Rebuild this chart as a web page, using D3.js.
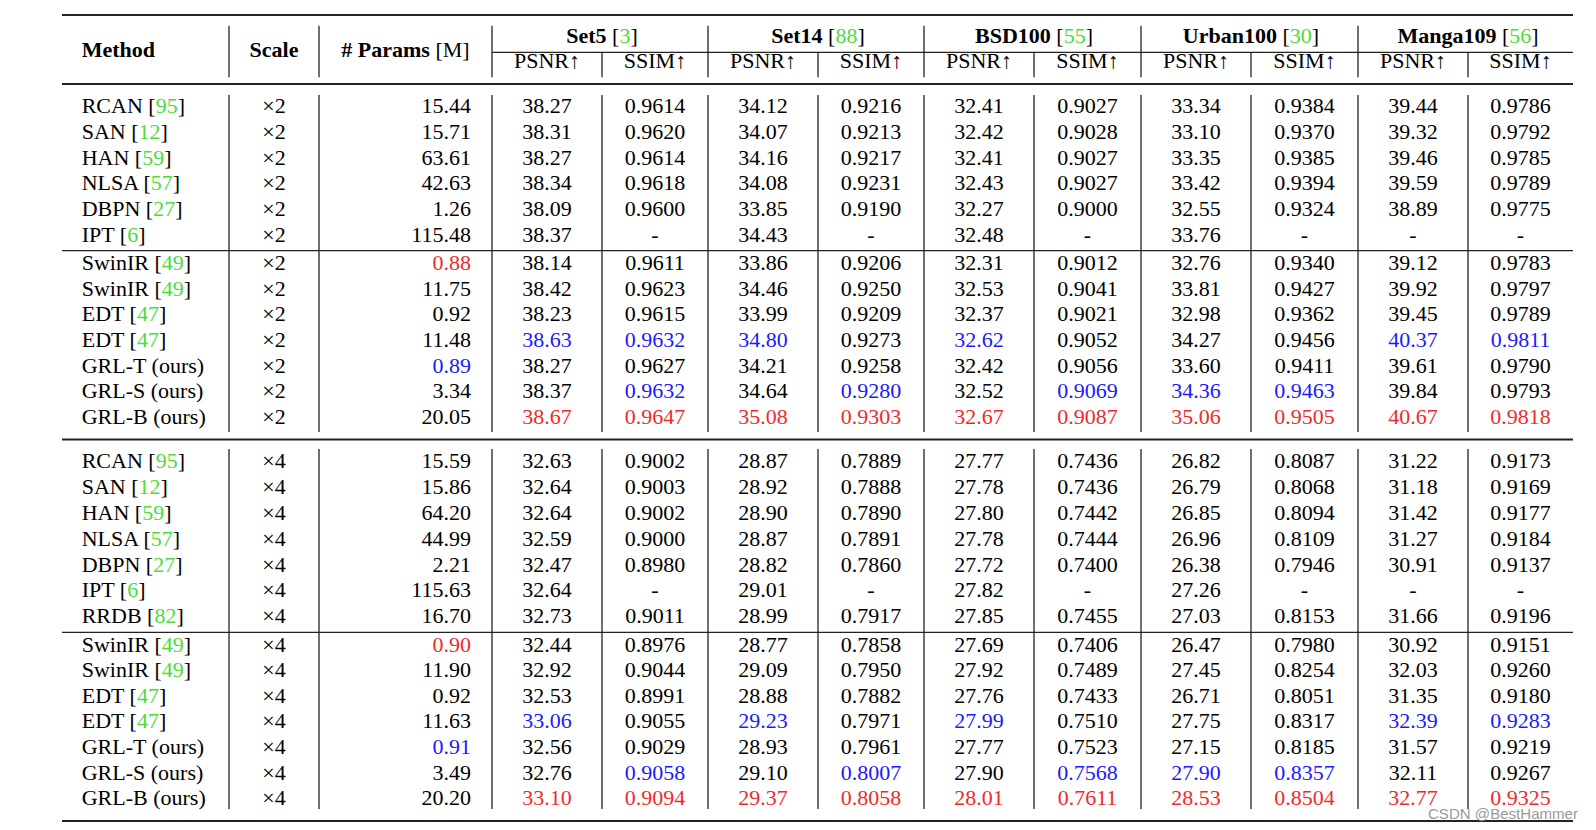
<!DOCTYPE html>
<html>
<head>
<meta charset="utf-8">
<script src="https://cdn.jsdelivr.net/npm/d3@7"></script>
<style>
  body { margin: 0; background: #fff; }
  text { font-family: "Liberation Serif", "Times New Roman", serif; font-size: 22px; fill: #000; }
</style>
</head>
<body>
<div id="table"></div>
<script>
// Header labels
var datasets = ["Set5", "Set14", "BSD100", "Urban100", "Manga109"];
var datasetRefs = [3, 88, 55, 30, 56];
var metrics = ["PSNR\u2191", "SSIM\u2191"];

// x2 block
var methodsX2 = ["RCAN", "SAN", "HAN", "NLSA", "DBPN", "IPT",
                 "SwinIR", "SwinIR", "EDT", "EDT", "GRL-T (ours)", "GRL-S (ours)", "GRL-B (ours)"];
var refsX2 = [95, 12, 59, 57, 27, 6, 49, 49, 47, 47, null, null, null];
var paramsX2 = ["15.44", "15.71", "63.61", "42.63", "1.26", "115.48",
                "0.88", "11.75", "0.92", "11.48", "0.89", "3.34", "20.05"];
var scoresX2 = [
    ["38.27", "0.9614", "34.12", "0.9216", "32.41", "0.9027", "33.34", "0.9384", "39.44", "0.9786"],
    ["38.31", "0.9620", "34.07", "0.9213", "32.42", "0.9028", "33.10", "0.9370", "39.32", "0.9792"],
    ["38.27", "0.9614", "34.16", "0.9217", "32.41", "0.9027", "33.35", "0.9385", "39.46", "0.9785"],
    ["38.34", "0.9618", "34.08", "0.9231", "32.43", "0.9027", "33.42", "0.9394", "39.59", "0.9789"],
    ["38.09", "0.9600", "33.85", "0.9190", "32.27", "0.9000", "32.55", "0.9324", "38.89", "0.9775"],
    ["38.37", "-", "34.43", "-", "32.48", "-", "33.76", "-", "-", "-"],
    ["38.14", "0.9611", "33.86", "0.9206", "32.31", "0.9012", "32.76", "0.9340", "39.12", "0.9783"],
    ["38.42", "0.9623", "34.46", "0.9250", "32.53", "0.9041", "33.81", "0.9427", "39.92", "0.9797"],
    ["38.23", "0.9615", "33.99", "0.9209", "32.37", "0.9021", "32.98", "0.9362", "39.45", "0.9789"],
    ["38.63", "0.9632", "34.80", "0.9273", "32.62", "0.9052", "34.27", "0.9456", "40.37", "0.9811"],
    ["38.27", "0.9627", "34.21", "0.9258", "32.42", "0.9056", "33.60", "0.9411", "39.61", "0.9790"],
    ["38.37", "0.9632", "34.64", "0.9280", "32.52", "0.9069", "34.36", "0.9463", "39.84", "0.9793"],
    ["38.67", "0.9647", "35.08", "0.9303", "32.67", "0.9087", "35.06", "0.9505", "40.67", "0.9818"]
];

// x4 block
var methodsX4 = ["RCAN", "SAN", "HAN", "NLSA", "DBPN", "IPT", "RRDB",
                 "SwinIR", "SwinIR", "EDT", "EDT", "GRL-T (ours)", "GRL-S (ours)", "GRL-B (ours)"];
var refsX4 = [95, 12, 59, 57, 27, 6, 82, 49, 49, 47, 47, null, null, null];
var paramsX4 = ["15.59", "15.86", "64.20", "44.99", "2.21", "115.63", "16.70",
                "0.90", "11.90", "0.92", "11.63", "0.91", "3.49", "20.20"];
var scoresX4 = [
    ["32.63", "0.9002", "28.87", "0.7889", "27.77", "0.7436", "26.82", "0.8087", "31.22", "0.9173"],
    ["32.64", "0.9003", "28.92", "0.7888", "27.78", "0.7436", "26.79", "0.8068", "31.18", "0.9169"],
    ["32.64", "0.9002", "28.90", "0.7890", "27.80", "0.7442", "26.85", "0.8094", "31.42", "0.9177"],
    ["32.59", "0.9000", "28.87", "0.7891", "27.78", "0.7444", "26.96", "0.8109", "31.27", "0.9184"],
    ["32.47", "0.8980", "28.82", "0.7860", "27.72", "0.7400", "26.38", "0.7946", "30.91", "0.9137"],
    ["32.64", "-", "29.01", "-", "27.82", "-", "27.26", "-", "-", "-"],
    ["32.73", "0.9011", "28.99", "0.7917", "27.85", "0.7455", "27.03", "0.8153", "31.66", "0.9196"],
    ["32.44", "0.8976", "28.77", "0.7858", "27.69", "0.7406", "26.47", "0.7980", "30.92", "0.9151"],
    ["32.92", "0.9044", "29.09", "0.7950", "27.92", "0.7489", "27.45", "0.8254", "32.03", "0.9260"],
    ["32.53", "0.8991", "28.88", "0.7882", "27.76", "0.7433", "26.71", "0.8051", "31.35", "0.9180"],
    ["33.06", "0.9055", "29.23", "0.7971", "27.99", "0.7510", "27.75", "0.8317", "32.39", "0.9283"],
    ["32.56", "0.9029", "28.93", "0.7961", "27.77", "0.7523", "27.15", "0.8185", "31.57", "0.9219"],
    ["32.76", "0.9058", "29.10", "0.8007", "27.90", "0.7568", "27.90", "0.8357", "32.11", "0.9267"],
    ["33.10", "0.9094", "29.37", "0.8058", "28.01", "0.7611", "28.53", "0.8504", "32.77", "0.9325"]
];

var width = 1596, height = 830;
var green = "#4ddc3a", red = "#f02a2a", blue = "#1a1aff", lineColor = "#222";

// Column edges of the table (layout)
var colEdges = [62, 229, 319, 492, 602, 708, 818, 924, 1034, 1141, 1251, 1358, 1468, 1573];
var x = d3.scaleOrdinal().domain(d3.range(colEdges.length)).range(colEdges);
var colCenter = i => (x(i) + x(i + 1)) / 2;

var svg = d3.select('#table').append('svg')
    .attr('width', width)
    .attr('height', height);
svg.append('rect').attr('width', width).attr('height', height).attr('fill', '#fff');

// best -> red, second best -> blue, per column in each block
function rankColors(values, lowerIsBetter) {
    var nums = values.map(v => v === "-" ? NaN : +v);
    var uniq = Array.from(new Set(nums.filter(v => !isNaN(v)))).sort((a, b) => lowerIsBetter ? a - b : b - a);
    return nums.map(v => v === uniq[0] ? red : v === uniq[1] ? blue : "#000");
}

function hline(y, x0, x1, w) {
    svg.append('line').attr('x1', x0).attr('x2', x1).attr('y1', y).attr('y2', y)
        .attr('stroke', lineColor).attr('stroke-width', w);
}
function vline(xp, y0, y1) {
    svg.append('line').attr('x1', xp).attr('x2', xp).attr('y1', y0).attr('y2', y1)
        .attr('stroke', lineColor).attr('stroke-width', 1.3);
}

// Header
var hdr = svg.append('g');
hdr.append('text').attr('x', 81.7).attr('y', 57.3).attr('font-weight', 'bold').text('Method');
hdr.append('text').attr('x', colCenter(1)).attr('y', 57.3).attr('text-anchor', 'middle')
    .attr('font-weight', 'bold').text('Scale');
var pt = hdr.append('text').attr('x', colCenter(2)).attr('y', 57.3).attr('text-anchor', 'middle');
pt.append('tspan').attr('font-weight', 'bold').text('# Params ');
pt.append('tspan').text('[M]');

datasets.forEach(function(name, i) {
    var c0 = 3 + i * 2;
    var t = hdr.append('text').attr('x', x(c0 + 1)).attr('y', 43.3).attr('text-anchor', 'middle');
    t.append('tspan').attr('font-weight', 'bold').text(name + ' ');
    t.append('tspan').text('[');
    t.append('tspan').style('fill', green).text(datasetRefs[i]);
    t.append('tspan').text(']');
    metrics.forEach(function(m, j) {
        hdr.append('text').attr('x', colCenter(c0 + j)).attr('y', 68.3)
            .attr('text-anchor', 'middle').text(m);
    });
});

// Rules
hline(15, 62, 1573, 2.2);
hline(52.3, 492, 1573, 1.2);
hline(84, 62, 1573, 2.2);

// header vertical lines
[1, 2, 3, 5, 7, 9, 11].forEach(i => vline(x(i), 25.7, 77.3));
[4, 6, 8, 10, 12].forEach(i => vline(x(i), 52.3, 77.3));

function drawBlock(scaleLabel, methods, refs, params, scores, split, yTop, yBot, ruleY, vTop, vBot) {
    var n = methods.length;
    var y = i => i < split ? yTop(i) : yBot(i);
    var g = svg.append('g');

    var paramColors = rankColors(params, true);
    var scoreColors = d3.range(10).map(j => rankColors(scores.map(r => r[j]), false));

    var rows = g.selectAll('g.row').data(d3.range(n)).enter().append('g').attr('class', 'row');

    var mt = rows.append('text').attr('x', 81.7).attr('y', d => y(d));
    mt.append('tspan').text(d => methods[d] + (refs[d] !== null ? ' [' : ''));
    mt.filter(d => refs[d] !== null).append('tspan').style('fill', green).text(d => refs[d]);
    mt.filter(d => refs[d] !== null).append('tspan').text(']');

    rows.append('text').attr('x', colCenter(1)).attr('y', d => y(d)).attr('text-anchor', 'middle')
        .text(scaleLabel);
    rows.append('text').attr('x', x(3) - 21).attr('y', d => y(d)).attr('text-anchor', 'end')
        .style('fill', d => paramColors[d]).text(d => params[d]);

    rows.selectAll('text.score').data(d => scores[d].map((v, j) => ({v: v, j: j, r: d})))
        .enter().append('text').attr('class', 'score')
        .attr('x', d => colCenter(3 + d.j)).attr('y', d => y(d.r))
        .attr('text-anchor', 'middle')
        .style('fill', d => scoreColors[d.j][d.r])
        .text(d => d.v);

    hline(ruleY, 62, 1573, 1.2);
    d3.range(1, 13).forEach(i => vline(x(i), vTop, vBot));
}

drawBlock('\u00d72', methodsX2, refsX2, paramsX2, scoresX2, 6,
    d3.scaleLinear().domain([0, 5]).range([113.4, 241.8]),
    d3.scaleLinear().domain([6, 12]).range([270, 424]),
    250.7, 95, 432);

hline(439.5, 62, 1573, 2.2);

drawBlock('\u00d74', methodsX4, refsX4, paramsX4, scoresX4, 7,
    d3.scaleLinear().domain([0, 6]).range([468.2, 623.3]),
    d3.scaleLinear().domain([7, 13]).range([651.5, 805.3]),
    632.3, 449, 809);

hline(821, 62, 1573, 2.2);

// watermark
svg.append('text').attr('x', 1428).attr('y', 819)
    .style('font-family', '"Liberation Sans", Arial, sans-serif').style('font-size', '15px')
    .style('fill', '#9a9a9a').attr('textLength', 150).attr('lengthAdjust', 'spacingAndGlyphs')
    .text('CSDN @BestHammer');
</script>
</body>
</html>
